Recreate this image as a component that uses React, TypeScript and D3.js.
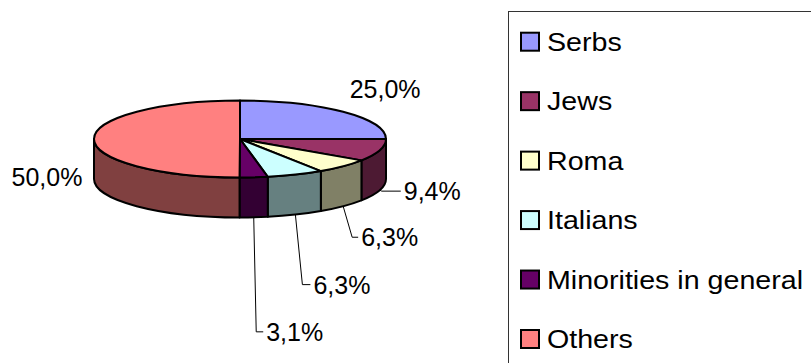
import React from "react";
import * as d3 from "d3";

// Shares of mentions by group (percent)
const categories = ["Serbs", "Jews", "Roma", "Italians", "Minorities in general", "Others"];
const shares = [25.0, 9.4, 6.3, 6.3, 3.1, 50.0];
const topColors = ["#9999FF", "#993366", "#FFFFCC", "#CCFFFF", "#660066", "#FF8080"];

// Label placement relative to each slice's rim anchor
// kind "leader": elbow offset (dx, dy) then a horizontal tail
// kind "free": text centred at anchor + (dx, dy)
const labelLayout = [
  { kind: "free", dx: 42, dy: -23, tail: 0 },
  { kind: "leader", dx: 2, dy: 1, tail: 19 },
  { kind: "leader", dx: 9, dy: 31, tail: 6 },
  { kind: "leader", dx: 7, dy: 70, tail: 8 },
  { kind: "leader", dx: 2.5, dy: 114.5, tail: 7 },
  { kind: "free", dx: -47, dy: 18, tail: 0 },
];

const W = 811;
const H = 363;
const FONT = "'Liberation Sans', Arial, Helvetica, sans-serif";

export default function App() {
  const cx = 240;
  const cy = 139;
  const rx = 146;
  const ry = 38.5;
  const depth = 40;

  const arcs = d3
    .pie<number>()
    .sort(null)
    .value((d) => d)
    .startAngle(0)
    .endAngle(2 * Math.PI)(shares);

  const pt = (a: number, dy = 0): [number, number] => [
    cx + rx * Math.sin(a),
    cy - ry * Math.cos(a) + dy,
  ];

  const fmt = (v: number) => d3.format(".1f")(v).replace(".", ",") + "%";

  // Front side walls (angles between PI/2 and 3PI/2 face the viewer)
  const sides = arcs
    .map((a, i) => {
      const s = Math.max(a.startAngle, Math.PI / 2);
      const e = Math.min(a.endAngle, (3 * Math.PI) / 2);
      if (e <= s) return null;
      const [x0, y0] = pt(s);
      const [x1, y1] = pt(e);
      const d = `M${x0},${y0} A${rx},${ry} 0 0 1 ${x1},${y1} L${x1},${y1 + depth} A${rx},${ry} 0 0 0 ${x0},${y0 + depth} Z`;
      const c = d3.rgb(topColors[i]);
      const fill = d3.rgb(c.r * 0.5, c.g * 0.5, c.b * 0.5).formatHex();
      return <path key={"s" + i} d={d} fill={fill} stroke="#000" strokeWidth={2} strokeLinejoin="round" />;
    })
    .filter(Boolean);

  const tops = arcs.map((a, i) => {
    const [x0, y0] = pt(a.startAngle);
    const [x1, y1] = pt(a.endAngle);
    const large = a.endAngle - a.startAngle > Math.PI ? 1 : 0;
    const d = `M${cx},${cy} L${x0},${y0} A${rx},${ry} 0 ${large} 1 ${x1},${y1} Z`;
    return <path key={"t" + i} d={d} fill={topColors[i]} stroke="#000" strokeWidth={2} strokeLinejoin="round" />;
  });

  const labels = arcs.map((a, i) => {
    const mid = (a.startAngle + a.endAngle) / 2;
    const lay = labelLayout[i];
    const front = mid > Math.PI / 2 && mid < (3 * Math.PI) / 2;
    const [ax, ay] = pt(mid, front ? depth : 0);
    const text = fmt(a.data);
    if (lay.kind === "leader") {
      const ex = ax + lay.dx;
      const ey = ay + lay.dy;
      const tx = ex + lay.tail;
      return (
        <g key={"l" + i}>
          <polyline
            points={`${ax},${ay} ${ex},${ey} ${tx},${ey}`}
            fill="none"
            stroke="#000"
            strokeWidth={1}
          />
          <text x={tx + 3} y={ey + 9} fontSize={25} fontFamily={FONT} fill="#000">
            {text}
          </text>
        </g>
      );
    }
    const side = mid > Math.PI ? depth / 2 : 0;
    return (
      <text
        key={"l" + i}
        x={ax + lay.dx}
        y={ay + side + lay.dy + 9}
        fontSize={25}
        fontFamily={FONT}
        textAnchor="middle"
        fill="#000"
      >
        {text}
      </text>
    );
  });

  const legendX = 508.5;
  const legendY = 11.5;
  const rowY = d3.scalePoint<string>().domain(categories).range([41.7, 339]);

  return (
    <svg
      width={W}
      height={H}
      style={{ position: "absolute", left: 0, top: 0, background: "#fff" }}
    >
      <rect x={0} y={0} width={W} height={H} fill="#fff" />
      <g>{sides}</g>
      <g>{tops}</g>
      <g>{labels}</g>
      <rect x={legendX} y={legendY} width={W} height={H} fill="#fff" stroke="#333" strokeWidth={1} />
      {categories.map((c, i) => {
        const y = rowY(c) as number;
        return (
          <g key={"lg" + i}>
            <rect x={521} y={y - 9} width={18} height={18} fill={topColors[i]} stroke="#000" strokeWidth={2} />
            <text
              transform={`translate(547,${y + 9}) scale(1.145,1)`}
              fontSize={25}
              fontFamily={FONT}
              fill="#000"
            >
              {c}
            </text>
          </g>
        );
      })}
    </svg>
  );
}
